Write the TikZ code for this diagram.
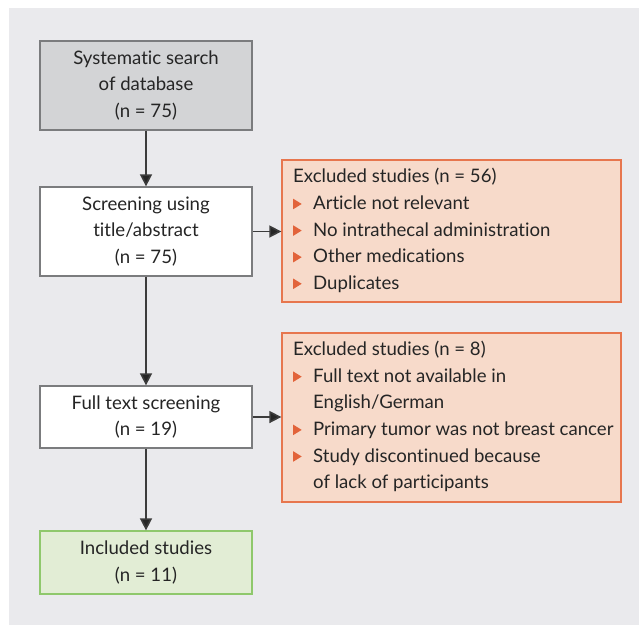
\documentclass[tikz,border=0pt]{standalone}
\usepackage{fontspec}
\setmainfont{Lato}[Ligatures=NoCommon]
\usetikzlibrary{arrows.meta}
\definecolor{bgc}{HTML}{EAEAED}
\definecolor{grayfill}{HTML}{D3D4D6}
\definecolor{grayline}{HTML}{7B7C7E}
\definecolor{excfill}{HTML}{F7DACA}
\definecolor{excline}{HTML}{E7764E}
\definecolor{bulletc}{HTML}{E2633A}
\definecolor{greenfill}{HTML}{E2EDD5}
\definecolor{greenline}{HTML}{8FC86C}
\definecolor{txt}{HTML}{252525}
\definecolor{arr}{HTML}{3C3C3C}
\newcommand\xbul{\makebox[20pt][l]{\tikz[baseline=0pt]\fill[bulletc] (0,0.3pt) -- (0,10.8pt) -- (8.5pt,5.55pt) -- cycle;}}
\newcommand\xind{\hspace*{20pt}}
\begin{document}
\begin{tikzpicture}[x=1pt,y=-1pt,
  every node/.style={text=txt,font=\fontsize{18.6}{26.6}\selectfont},
  box/.style={draw=grayline,line width=1.3pt,fill=white,minimum width=212pt,inner sep=0pt},
  exc/.style={draw=excline,line width=1.3pt,fill=excfill,minimum width=339pt,inner sep=0pt},
  boxtext/.style={align=center,inner sep=0pt},
  exctext/.style={align=left,inner sep=0pt,anchor=west},
  conn/.style={draw=arr,line width=1.6pt,-{Triangle[length=12pt,width=12pt,fill=black!85]}}
]
\useasboundingbox (0,0) rectangle (639,625);
\fill[bgc] (9,8) rectangle (639,625);
% main boxes
\node[box,fill=grayfill,minimum height=89pt] (search) at (146,85.5) {};
\node[boxtext] at (search.center) {Systematic search\\of database\\(n = 75)};
\node[box,minimum height=89pt] (screen) at (146,231.5) {};
\node[boxtext] at (screen.center) {Screening using\\title/abstract\\(n = 75)};
\node[box,minimum height=62pt] (full) at (146,417) {};
\node[boxtext] at (full.center) {Full text screening\\(n = 19)};
\node[box,draw=greenline,fill=greenfill,minimum height=63pt] (incl) at (146,562.5) {};
\node[boxtext] at (incl.center) {Included studies\\(n = 11)};
% exclusion boxes
\node[exc,minimum height=142pt] (exc1) at (451.5,231) {};
\node[exctext] at (293,230.5) {Excluded studies (n = 56)\\\xbul Article not relevant\\\xbul No intrathecal administration\\\xbul Other medications\\\xbul Duplicates};
\node[exc,minimum height=169pt] (exc2) at (451.5,417.5) {};
\node[exctext] at (293,416.5) {Excluded studies (n = 8)\\\xbul Full text not available in\\\xind English/German\\\xbul Primary tumor was not breast cancer\\\xbul Study discontinued because\\\xind of lack of participants};
% connectors
\draw[conn] (search) -- (screen);
\draw[conn] (screen) -- (full);
\draw[conn] (full) -- (incl);
\draw[conn] (screen.east) -- (exc1.west |- screen.east);
\draw[conn] (full.east) -- (exc2.west |- full.east);
\end{tikzpicture}
\end{document}
